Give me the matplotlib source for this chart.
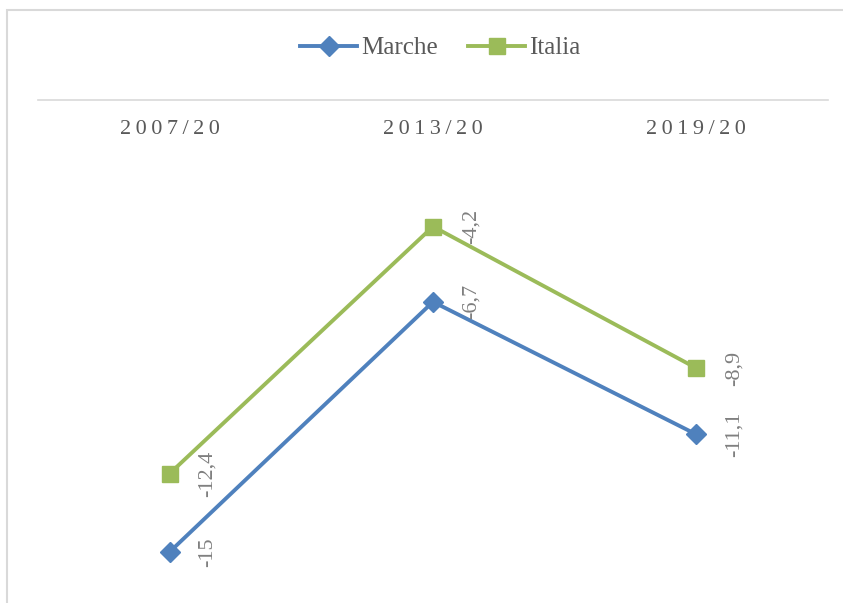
import matplotlib
matplotlib.use("Agg")
import matplotlib.pyplot as plt
import matplotlib.transforms as mtransforms
from matplotlib.patches import Rectangle

# data
periods = ["2007/20", "2013/20", "2019/20"]
marche = [-15.0, -6.7, -11.1]
italia = [-12.4, -4.2, -8.9]
marche_labels = ["-15", "-6,7", "-11,1"]
italia_labels = ["-12,4", "-4,2", "-8,9"]

BLUE = "#4F81BD"
GREEN = "#9BBB59"
GRID = "#D9D9D9"
TEXT = "#595959"
FONT = ["Liberation Serif", "DejaVu Serif"]

W, H = 843, 603
fig = plt.figure(figsize=(W / 100, H / 100), dpi=100)

# chart area border (cut by the image edges)
fig.patches.append(
    Rectangle((7 / W, -0.05), 1.1, 1 - 10 / H + 0.05, transform=fig.transFigure,
              fill=False, edgecolor=GRID, linewidth=1.5)
)

left, right, top, bottom = 38, 828, 100, 582
ax = fig.add_axes([left / W, 1 - bottom / H, (right - left) / W, (bottom - top) / H])
ax.set_xlim(-0.5, 2.5)
ax.set_ylim(-16, 0)
for s in ["left", "right", "bottom"]:
    ax.spines[s].set_visible(False)
ax.spines["top"].set_color(GRID)
ax.spines["top"].set_linewidth(1.2)
ax.set_xticks([])
ax.set_yticks([])

x = list(range(len(periods)))
ax.plot(x, marche, color=BLUE, lw=2.8, marker="D", ms=10, label="Marche",
        clip_on=False, zorder=3)
ax.plot(x, italia, color=GREEN, lw=2.8, marker="s", ms=12, label="Italia",
        clip_on=False, zorder=3)

# category labels just under the axis line
trans = mtransforms.blended_transform_factory(ax.transData, ax.transAxes)
for i, p in enumerate(periods):
    ax.text(i, 1 - 29 / (bottom - top), "\u2009".join(p), transform=trans,
            ha="center", va="center", fontsize=16, color=TEXT, family=FONT)

# rotated data labels to the right of the points
off = mtransforms.offset_copy(ax.transData, fig=fig, x=38, y=0, units="dots")
for xs, ys, labs in [(x, marche, marche_labels), (x, italia, italia_labels)]:
    for xi, yi, lab in zip(xs, ys, labs):
        ax.text(xi, yi, lab, transform=off, rotation=90, ha="center", va="center",
                fontsize=16, color="#7F7F7F", family=FONT)

leg = fig.legend(loc="center", bbox_to_anchor=(0.522, 1 - 48 / H), ncol=2,
                 frameon=False, prop={"family": FONT, "size": 18},
                 handlelength=2.3, columnspacing=1.2, handletextpad=0.15)
for t in leg.get_texts():
    t.set_color(TEXT)

fig.savefig("out.png", dpi=100)
